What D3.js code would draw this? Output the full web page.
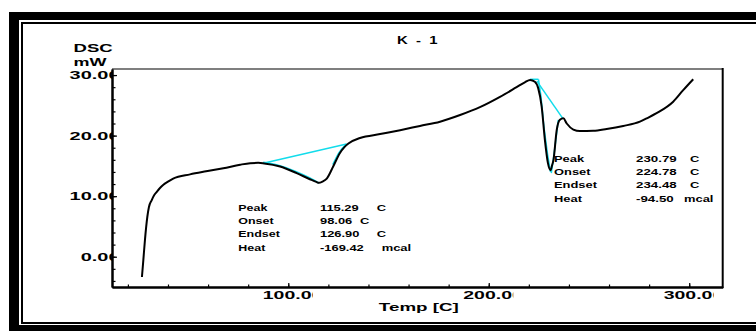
<!DOCTYPE html>
<html>
<head>
<meta charset="utf-8">
<script src="https://cdn.jsdelivr.net/npm/d3@7"></script>
<style>
  html, body { margin: 0; padding: 0; background: #fff; overflow: hidden; }
  text { font-family: "Liberation Sans", Arial, sans-serif; font-weight: bold; fill: #000; white-space: pre; }
</style>
</head>
<body>
<svg id="chart" width="756" height="331"></svg>
<script>
// ---- DSC trace: temperature [C] and heat flow [mW] ----
const temps = [27.0, 27.7, 28.5, 29.7, 30.5, 31.9, 33.0, 34.4, 36.0, 37.7, 40.0, 42.6, 51, 59, 67.6, 76, 81, 85, 88,
  95.9, 104.2, 110.8, 114, 115.3, 117, 119.2, 122.4, 125.7, 128, 130, 135.8, 145.8, 155.8,
  165.7, 175.7, 185.7, 195.6, 205.6, 213.9, 218, 220.6, 223, 224.7, 226.4, 228, 229.5,
  230.8, 231.6, 232.3, 233.9, 235.5, 237.2, 238.9, 242.2, 245.5, 252.1, 258.8, 267.1,
  275.4, 278.8, 283.7, 292, 297, 302];
const heatFlow = [-3.35, -0.55, 2.75, 6.6, 8.2, 9.36, 10.1, 10.7, 11.35, 11.9, 12.4, 12.9, 13.6, 14.1, 14.6, 15.2, 15.45, 15.5, 15.4,
  14.9, 13.8, 12.8, 12.35, 12.2, 12.4, 12.9, 14.9, 17.1, 18.1, 18.7, 19.6, 20.25, 20.9,
  21.6, 22.3, 23.4, 24.7, 26.4, 28.0, 28.8, 29.2, 28.9, 27.8, 24.8, 19.3, 15.5,
  14.3, 15.1, 16.0, 20.9, 22.6, 22.85, 22.0, 21.0, 20.75, 20.8, 21.1, 21.6,
  22.3, 22.85, 23.7, 25.6, 27.5, 29.3];

// ---- peak analysis overlays (cyan) ----
const base1T = [87.5, 129.1];
const base1V = [15.45, 18.6];
const fit1T = [87.5, 95, 104, 110.8, 115.3];
const fit1V = [15.6, 15.1, 14.05, 13.0, 12.15];
const rise1T = [122.2, 125.3, 129.1];
const rise1V = [15.2, 17.2, 18.6];

const top2T = [220.6, 224.8];
const top2V = [29.3, 29.3];
const fall2T = [224.8, 226.0, 227.5, 229.3, 230.8];
const fall2V = [29.3, 26.6, 21.5, 17.0, 14.0];
const rise2T = [231.2, 232.6, 234.7];
const rise2V = [13.8, 17.0, 22.6];
const base2T = [224.0, 237.0];
const base2V = [29.0, 22.8];

// ---- axis ticks ----
const xMajor = [100, 200, 300];
const xMinor = d3.range(20, 301, 20);
const yMajor = [0, 10, 20, 30];
const yMinor = d3.range(-4, 31, 2);

// ---- texts ----
const titleText = "K  -  1";
const yTitle = ["DSC", "mW"];
const xTitle = "Temp [C]";
const infoNames = ["Peak", "Onset", "Endset", "Heat"];
const peak1Values = ["115.29", "98.06", "126.90", "-169.42"];
const peak1Units = ["C", "C", "C", "mcal"];
const peak2Values = ["230.79", "224.78", "234.48", "-94.50"];
const peak2Units = ["C", "C", "C", "mcal"];

const svg = d3.select("#chart");
const x = d3.scaleLinear().domain([12.07, 316.7]).range([112, 722.7]);
const y = d3.scaleLinear().domain([-5, 31]).range([287, 69]);
const cyan = "#12dceb";

// window frame: heavy outer bar and thin inner rule
svg.append("rect").attr("x", 9).attr("y", 12).attr("width", 747).attr("height", 8).attr("fill", "#000");
svg.append("rect").attr("x", 9).attr("y", 12).attr("width", 10).attr("height", 319).attr("fill", "#000");
svg.append("rect").attr("x", 9).attr("y", 325).attr("width", 747).attr("height", 6).attr("fill", "#000");
svg.append("rect").attr("x", 21).attr("y", 22).attr("width", 735).attr("height", 2).attr("fill", "#000");
svg.append("rect").attr("x", 21).attr("y", 22).attr("width", 2).attr("height", 302).attr("fill", "#000");
svg.append("rect").attr("x", 21).attr("y", 322).attr("width", 735).attr("height", 2).attr("fill", "#000");

const defs = svg.append("defs");

// stretched label helper
function label(g, px, py, str, size, k, anchor) {
  return g.append("text")
    .attr("transform", `translate(${px},${py}) scale(${k},1)`)
    .attr("text-anchor", anchor || "start")
    .style("font-size", size + "px")
    .text(str);
}

// plot box
const [x0, x1] = x.range();
const [y0, y1] = y.range();
svg.append("line").attr("x1", x0).attr("x2", x1).attr("y1", y1).attr("y2", y1)
  .attr("stroke", "#555").attr("stroke-width", 1.5);
svg.append("line").attr("x1", x1).attr("x2", x1).attr("y1", y1 - 1).attr("y2", y0 + 1)
  .attr("stroke", "#000").attr("stroke-width", 2);

// axes (ticks pointing inward)
function styleAxis(g) {
  g.select(".domain").attr("stroke", "#000").attr("stroke-width", 2);
  g.selectAll(".tick line").attr("stroke", "#000").attr("stroke-width", 1.2);
  g.selectAll(".tick text").remove();
}
svg.append("g").attr("transform", `translate(0,${y0})`)
  .call(d3.axisBottom(x).tickValues(xMinor).tickSize(-2.5).tickSizeOuter(0)).call(styleAxis);
svg.append("g").attr("transform", `translate(0,${y0})`)
  .call(d3.axisBottom(x).tickValues(xMajor).tickSize(-4).tickSizeOuter(0)).call(styleAxis);
svg.append("g").attr("transform", `translate(${x0},0)`)
  .call(d3.axisLeft(y).tickValues(yMinor).tickSize(-3.5).tickSizeOuter(0)).call(styleAxis);
svg.append("g").attr("transform", `translate(${x0},0)`)
  .call(d3.axisLeft(y).tickValues(yMajor).tickSize(-5).tickSizeOuter(0)).call(styleAxis);

// y tick labels, cut off at the axis line
defs.append("clipPath").attr("id", "yLabClip")
  .append("rect").attr("x", 0).attr("y", 0).attr("width", x0 + 1).attr("height", 331);
const yLab = svg.append("g").attr("clip-path", "url(#yLabClip)");
yMajor.forEach(v => label(yLab, x0 + 7.5, y(v) + 4.3, d3.format(".2f")(v), 11.6, 1.72, "end"));

// x tick labels, each cut off in a fixed-width cell
const xClip = defs.append("clipPath").attr("id", "xLabClip");
xMajor.forEach(v => xClip.append("rect").attr("x", x(v) - 28).attr("y", 280).attr("width", 52.5).attr("height", 30));
const xLab = svg.append("g").attr("clip-path", "url(#xLabClip)");
xMajor.forEach(v => label(xLab, x(v) - 25.5, 299.3, d3.format(".2f")(v), 11.6, 1.68, "start"));

// axis titles (x title loses its descenders at the cell edge)
defs.append("clipPath").attr("id", "xTitleClip")
  .append("rect").attr("x", 300).attr("y", 295).attr("width", 250).attr("height", 18.2);
label(svg.append("g").attr("clip-path", "url(#xTitleClip)"), (x0 + x1) / 2 + 1.5, 311.3, xTitle, 11.6, 1.62, "middle");
label(svg, 73.5, 51.7, yTitle[0], 11.6, 1.6, "start");
label(svg, 73.5, 65.7, yTitle[1], 11.6, 1.55, "start");
label(svg, (x0 + x1) / 2, 44, titleText, 10.3, 1.45, "middle");

// curves
const line = d3.line().x(d => x(d[0])).y(d => y(d[1])).curve(d3.curveMonotoneX);
const straight = d3.line().x(d => x(d[0])).y(d => y(d[1]));
const zipPts = (a, b) => a.map((t, i) => [t, b[i]]);

const cyanG = svg.append("g").attr("fill", "none").attr("stroke", cyan).attr("stroke-width", 1.5);
cyanG.append("path").attr("d", straight(zipPts(base1T, base1V)));
cyanG.append("path").attr("d", line(zipPts(fit1T, fit1V)));
cyanG.append("path").attr("d", line(zipPts(rise1T, rise1V)));
cyanG.append("path").attr("d", straight(zipPts(top2T, top2V)));
cyanG.append("path").attr("d", straight(zipPts(fall2T, fall2V)));
cyanG.append("path").attr("d", straight(zipPts(rise2T, rise2V)));
cyanG.append("path").attr("d", straight(zipPts(base2T, base2V)));

svg.append("path").attr("d", line(zipPts(temps, heatFlow)))
  .attr("fill", "none").attr("stroke", "#000").attr("stroke-width", 2)
  .attr("stroke-linejoin", "round");

// peak result tables
const info1 = svg.append("g");
const rows1 = [210.8, 224.1, 237.4, 250.7];
const units1X = [376.7, 360, 376.7, 381.7];
infoNames.forEach((n, i) => {
  label(info1, 238.3, rows1[i], n, 8.6, 1.45, "start");
  label(info1, 320, rows1[i], peak1Values[i], 8.6, 1.5, "start");
  label(info1, units1X[i], rows1[i], peak1Units[i], 8.6, 1.5, "start");
});
const info2 = svg.append("g");
const rows2 = [162.2, 175.3, 188.4, 201.6];
const units2X = [690, 690, 690, 684];
infoNames.forEach((n, i) => {
  label(info2, 554, rows2[i], n, 8.6, 1.5, "start");
  label(info2, 636, rows2[i], peak2Values[i], 8.6, 1.55, "start");
  label(info2, units2X[i], rows2[i], peak2Units[i], 8.6, 1.5, "start");
});
</script>
</body>
</html>
